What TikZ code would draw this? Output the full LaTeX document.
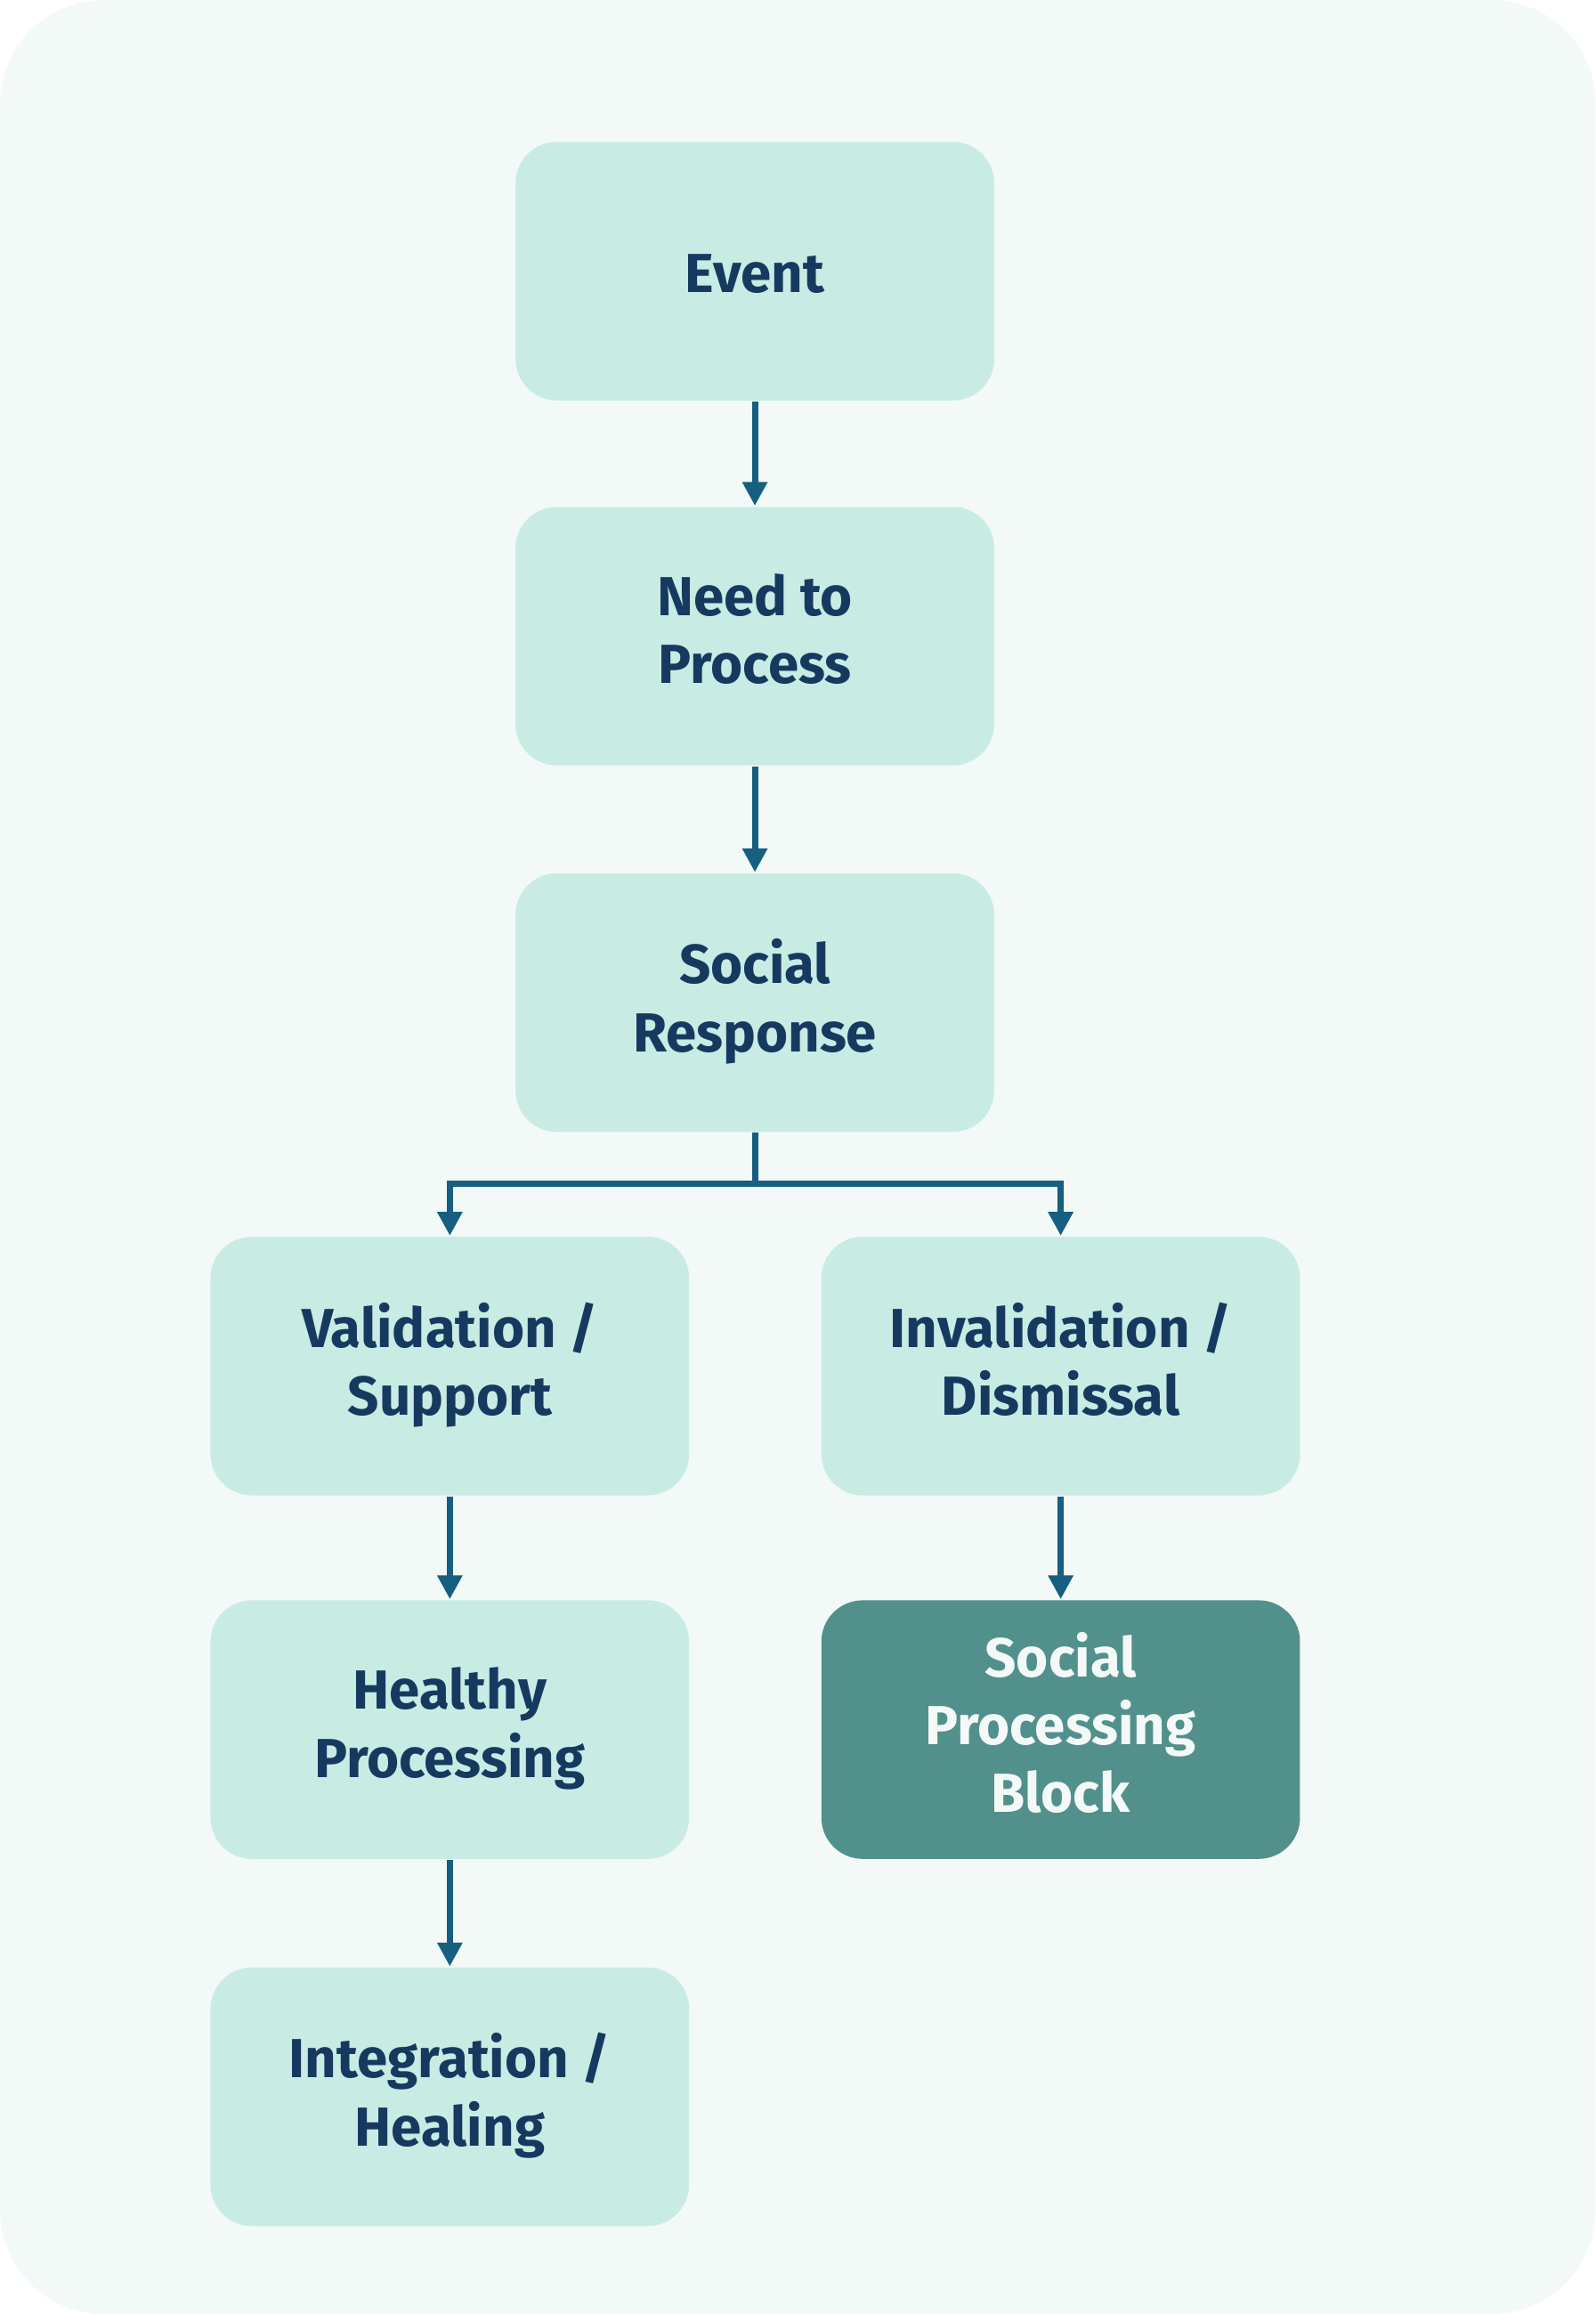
\documentclass[tikz,border=0pt]{standalone}
\usepackage{fontspec}
\setmainfont{Fira Sans}
\usetikzlibrary{arrows.meta}

\definecolor{panelbg}{HTML}{F3F9F7}
\definecolor{stagefill}{HTML}{C8ECE4}
\definecolor{stagetext}{HTML}{163A5F}
\definecolor{blockfill}{HTML}{52908C}
\definecolor{blocktext}{HTML}{F3F9F7}
\definecolor{flowcol}{HTML}{165F80}

\tikzset{
  stage/.style={fill=stagefill, rounded corners=0.28cm, minimum width=3.24cm,
    minimum height=1.75cm, inner sep=0pt, align=center, text=stagetext,
    font=\bfseries\fontsize{10.6}{13.1}\selectfont,
    execute at begin node={\rule{0pt}{11pt}},
    execute at end node={\rule[-2.8pt]{0pt}{2.8pt}}},
  blockstage/.style={stage, fill=blockfill, text=blocktext},
  flow/.style={draw=flowcol, line width=1.2pt, -{Triangle[width=4.6pt,length=4.6pt]}}
}

\begin{document}
\begin{tikzpicture}
    \useasboundingbox (0,0) rectangle (10.8,15.66);
    \fill[panelbg, rounded corners=0.7cm] (0,0) rectangle (10.8,15.66);

    \node[stage] (event) at (5.11,13.825) {Event};
    \node[stage] (need) at (5.11,11.355) {Need to\\Process};
    \node[stage] (resp) at (5.11,8.875) {Social\\Response};
    \node[stage] (valid) at (3.045,6.415) {Validation /\\Support};
    \node[stage] (invalid) at (7.18,6.415) {Invalidation /\\Dismissal};
    \node[stage] (healthy) at (3.045,3.955) {Healthy\\Processing};
    \node[blockstage] (block) at (7.18,3.955) {Social\\Processing\\Block};
    \node[stage] (integ) at (3.045,1.47) {Integration /\\Healing};
    \coordinate (split) at (5.11,7.65);

    \draw[flow] (event) -- (need);
    \draw[flow] (need) -- (resp);
    \draw[flow] (resp.south) -- (split) -| (valid.north);
    \draw[flow] (resp.south) -- (split) -| (invalid.north);
    \draw[flow] (valid) -- (healthy);
    \draw[flow] (invalid) -- (block);
    \draw[flow] (healthy) -- (integ);
\end{tikzpicture}
\end{document}
